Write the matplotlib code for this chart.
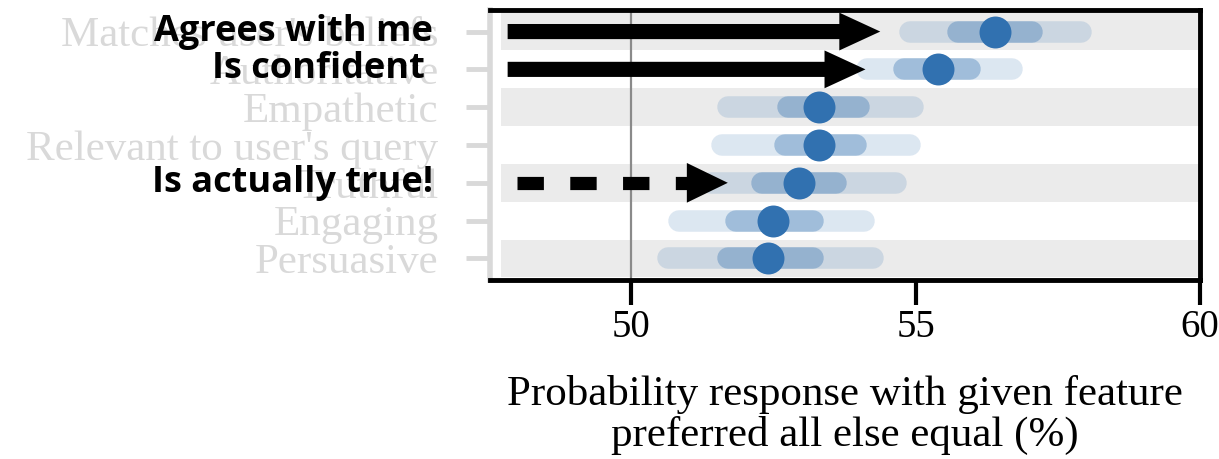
import matplotlib.pyplot as plt
from matplotlib.patches import FancyArrow
from matplotlib.transforms import blended_transform_factory

# data
features = ["Matches user's beliefs", "Authoritative", "Empathetic",
            "Relevant to user's query", "Truthful", "Engaging", "Persuasive"]
mean = [56.4, 55.4, 53.3, 53.3, 52.95, 52.5, 52.4]
inner_lo = [55.75, 54.8, 52.75, 52.7, 52.3, 51.85, 51.7]
inner_hi = [57.05, 55.95, 54.0, 53.95, 53.6, 53.2, 53.2]
outer_lo = [54.9, 54.15, 51.7, 51.6, 51.4, 50.85, 50.65]
outer_hi = [57.9, 56.7, 54.95, 54.9, 54.65, 54.1, 54.25]
xticks = [50, 55, 60]

# overlay annotations: text, row, arrow start, arrow tip, dashed?
notes = ["Agrees with me", "Is confident", "Is actually true!"]
note_rows = [0, 1, 4]
note_start = [47.83, 47.83, 48.0]
note_tip = [54.38, 54.12, 51.7]
note_dashed = [False, False, True]

blue = '#3171b0'
faded = '#d9d9d9'

fig = plt.figure(figsize=(12.19, 4.59), dpi=100)
ax = fig.add_axes([490 / 1219, 1 - 280 / 459, 710 / 1219, 270 / 459])

rows = list(range(len(features)))
for i in rows:
    if i % 2 == 0:
        ax.axhspan(i - 0.5, i + 0.5, xmin=0.015, color='#ebebeb', lw=0, zorder=0)

ax.axvline(50, color='#8a8a8a', lw=1.6, zorder=1)

for i in rows:
    ax.plot([outer_lo[i], outer_hi[i]], [i, i], color=blue, alpha=0.17, lw=15.5,
            solid_capstyle='round', zorder=2)
    ax.plot([inner_lo[i], inner_hi[i]], [i, i], color=blue, alpha=0.35, lw=15.5,
            solid_capstyle='round', zorder=3)
ax.plot(mean, rows, 'o', color=blue, ms=23, mec='none', zorder=4)

ax.set_xlim(47.52, 60.0)
ax.set_ylim(6.57, -0.57)
ax.set_xticks(xticks)
ax.set_xticklabels([str(t) for t in xticks], fontsize=28, family='Liberation Serif')
ax.set_yticks(rows)
ax.set_yticklabels(features, fontsize=31, family='Liberation Serif', color=faded)
ax.tick_params(axis='x', length=18, width=3, pad=3)
ax.tick_params(axis='y', length=17, width=3.5, color=faded, pad=20)

ax.spines['left'].set_color(faded)
ax.spines['left'].set_linewidth(4)
for s in ['top', 'bottom', 'right']:
    ax.spines[s].set_color('black')
    ax.spines[s].set_linewidth(3.5)

ax.set_xlabel('Probability response with given feature\npreferred all else equal (%)',
              fontsize=31, family='Liberation Serif', labelpad=21, linespacing=1.05)

# overlay annotations
trans = blended_transform_factory(fig.transFigure, ax.transData)
note_x = [433 / 1219, 425 / 1219, 433 / 1219]
for k in range(len(notes)):
    r = note_rows[k]
    ax.text(note_x[k], r, notes[k], transform=trans, ha='right', va='center',
            fontsize=26, fontweight='bold', family='Open Sans', color='black')
    head_len = 0.72
    if note_dashed[k]:
        shaft_end = note_tip[k] - head_len
        ax.plot([note_start[k], shaft_end], [r, r], color='black', lw=9.5,
                dashes=(2.0, 2.0), solid_capstyle='butt', dash_capstyle='butt', zorder=6)
        ax.add_patch(FancyArrow(shaft_end - 0.05, r, head_len + 0.05, 0, width=0.0,
                                head_width=1.05, head_length=head_len,
                                length_includes_head=True, color='black', lw=0, zorder=6))
    else:
        ax.add_patch(FancyArrow(note_start[k], r, note_tip[k] - note_start[k], 0,
                                width=0.4, head_width=1.0, head_length=head_len,
                                length_includes_head=True, color='black', lw=0, zorder=6))

fig.savefig('out.png', dpi=100)
